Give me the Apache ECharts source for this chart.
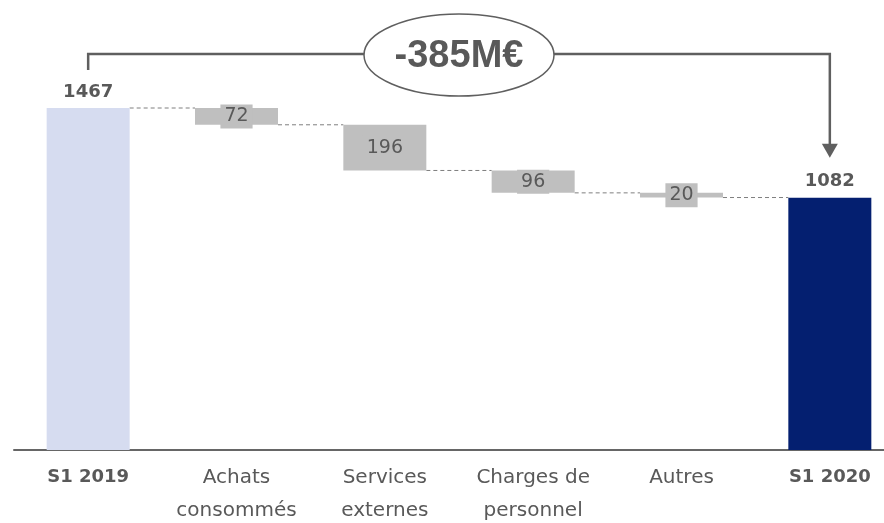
<!DOCTYPE html>
<html lang="fr">
  <head>
    <meta charset="UTF-8" />
    <title>Waterfall S1 2019 - S1 2020</title>
    <script src="https://cdnjs.cloudflare.com/ajax/libs/echarts/6.0.0/echarts.min.js"></script>
    <style>
      html, body { margin: 0; padding: 0; background: #fff; }
      #chart { width: 884px; height: 523px; }
    </style>
  </head>
  <body>
    <div id="chart"></div>
    <script>
      // données
      const categories = ["S1 2019", "Achats\nconsommés", "Services\nexternes", "Charges de\npersonnel", "Autres", "S1 2020"];
      const startTotal = 1467;
      const endTotal = 1082;
      const decreases = [72, 196, 96, 20];

      const textColor = "#595959";
      const lineColor = "#5f5f5f";
      const barWidth = 83;

      // bases invisibles + niveaux cumulés
      const levels = [startTotal];
      decreases.forEach((d) => levels.push(levels[levels.length - 1] - d));
      const baseData = ["-"].concat(levels.slice(1)).concat(["-"]);
      const decData = ["-"].concat(decreases).concat(["-"]);
      const totalData = [
        { value: startTotal, itemStyle: { color: "#d6dcf0" } },
        "-", "-", "-", "-",
        { value: endTotal, itemStyle: { color: "#041f70" } },
      ];
      const connectors = levels.map((v, i) => [i, v]);

      const myChart = echarts.init(document.getElementById("chart"));
      const options = {
        animation: false,
        grid: { left: 14, right: -20, top: 77, bottom: 73, containLabel: false, outerBoundsMode: "none" },
        xAxis: {
          type: "category",
          data: categories,
          axisLine: { lineStyle: { color: "#666", width: 2 } },
          axisTick: { show: false },
          axisLabel: {
            interval: 0,
            margin: 11,
            color: textColor,
            fontFamily: "DejaVu Sans",
            fontSize: 20,
            lineHeight: 33,
            formatter: (v, i) => (i === 0 || i === categories.length - 1 ? "{b|" + v + "}" : v),
            rich: {
              b: { fontWeight: "bold", fontSize: 18, color: textColor, fontFamily: "DejaVu Sans", lineHeight: 33 },
            },
          },
        },
        yAxis: { type: "value", min: 0, max: 1600, show: false, splitLine: { show: false } },
        series: [
          {
            type: "bar",
            stack: "w",
            barWidth: barWidth,
            itemStyle: { color: "transparent" },
            silent: true,
            data: baseData,
          },
          {
            type: "bar",
            stack: "w",
            barWidth: barWidth,
            itemStyle: { color: "#bfbfbf" },
            label: {
              show: true,
              position: "inside",
              color: textColor,
              fontFamily: "DejaVu Sans",
              fontSize: 19,
              backgroundColor: "#bfbfbf",
              padding: [3, 4, 2, 4],
            },
            data: decData,
          },
          {
            type: "bar",
            stack: "w",
            barWidth: barWidth,
            label: {
              show: true,
              position: "top",
              distance: 7,
              color: textColor,
              fontFamily: "DejaVu Sans",
              fontWeight: "bold",
              fontSize: 18,
            },
            data: totalData,
          },
          // lignes pointillées entre les barres
          {
            type: "custom",
            silent: true,
            clip: false,
            z: 1,
            data: connectors,
            renderItem: (params, api) => {
              const a = api.coord([api.value(0), api.value(1)]);
              const b = api.coord([api.value(0) + 1, api.value(1)]);
              return {
                type: "line",
                shape: { x1: a[0] + barWidth / 2, y1: a[1], x2: b[0] - barWidth / 2, y2: a[1] },
                style: { stroke: "#7f7f7f", lineWidth: 1, lineDash: [4, 3] },
              };
            },
          },
          // accolade avec flèche et ellipse
          {
            type: "custom",
            silent: true,
            clip: false,
            z: 5,
            data: [[0, startTotal]],
            renderItem: (params, api) => {
              const p0 = api.coord([0, startTotal]);
              const p1 = api.coord([categories.length - 1, endTotal]);
              const topY = p0[1] - 54;
              const tipY = p1[1] - 40;
              const cx = (p0[0] + p1[0]) / 2;
              const stroke = { stroke: lineColor, lineWidth: 2.5, fill: null };
              return {
                type: "group",
                children: [
                  {
                    type: "polyline",
                    shape: { points: [[p0[0], p0[1] - 38], [p0[0], topY], [p1[0], topY], [p1[0], tipY - 12]] },
                    style: stroke,
                  },
                  {
                    type: "polygon",
                    shape: { points: [[p1[0] - 8, tipY - 14], [p1[0] + 8, tipY - 14], [p1[0], tipY]] },
                    style: { fill: lineColor },
                  },
                  {
                    type: "ellipse",
                    shape: { cx: cx, cy: topY + 1, rx: 95, ry: 41 },
                    style: { fill: "#fff", stroke: lineColor, lineWidth: 1.5 },
                  },
                  {
                    type: "text",
                    x: cx,
                    y: topY + 3,
                    style: {
                      text: (endTotal - startTotal) + "M€",
                      fill: textColor,
                      font: "bold 38px 'Liberation Sans'",
                      align: "center",
                      verticalAlign: "middle",
                    },
                  },
                ],
              };
            },
          },
        ],
      };
      myChart.setOption(options);
    </script>
  </body>
</html>
